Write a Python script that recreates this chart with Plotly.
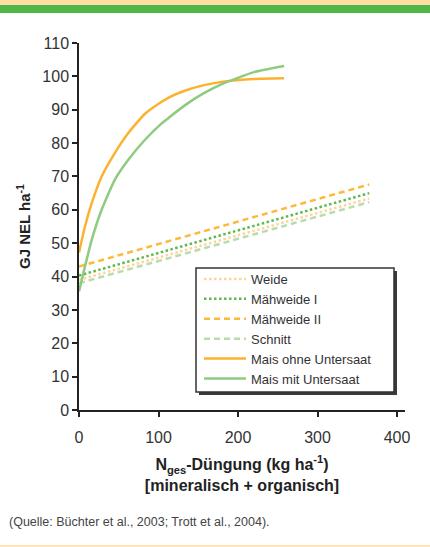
import plotly.graph_objects as go

# ---------------- data ----------------
mais_x = [0, 7.5, 16, 28.5, 45, 62, 83, 104, 114, 133, 156, 181, 219, 258]
mais_ohne_y = [47.2, 55, 62, 70, 77, 83, 88.8, 92.4, 93.8, 95.7, 97.3, 98.4, 99.2, 99.4]
mais_mit_y = [35.5, 43, 51, 60, 69, 75, 81, 85.9, 87.8, 91.3, 94.8, 97.8, 101.2, 103.1]

lin_x = [0, 365]
weide_y = [39.0, 63.4]
maehweide1_y = [40.3, 65.0]
maehweide2_y = [43.0, 67.6]
schnitt_y = [38.0, 62.3]

x_ticks = [0, 100, 200, 300, 400]
y_ticks = [0, 10, 20, 30, 40, 50, 60, 70, 80, 90, 100, 110]

# ---------------- layout helpers ----------------
W, H = 430, 547
L, R, T, B = 79, 25, 43, 137
PW, PH = W - L - R, H - T - B


def px(xp):
    return (xp - L) / PW


def py(yp):
    return (H - B - yp) / PH


TXT = "#333333"
fig = go.Figure()

series = [
    ("Weide", lin_x, weide_y, "#FDD49A", "2.5px,2.5px", "linear"),
    ("Mähweide I", lin_x, maehweide1_y, "#5DB94D", "2.5px,2.5px", "linear"),
    ("Mähweide II", lin_x, maehweide2_y, "#FBBA3C", "6px,4px", "linear"),
    ("Schnitt", lin_x, schnitt_y, "#B8DCAC", "6px,4px", "linear"),
    ("Mais ohne Untersaat", mais_x, mais_ohne_y, "#FBB22E", "solid", "spline"),
    ("Mais mit Untersaat", mais_x, mais_mit_y, "#8FCB7F", "solid", "spline"),
]
for name, xs, ys, col, dash, shape in series:
    fig.add_trace(go.Scatter(
        x=xs, y=ys, mode="lines", name=name,
        line=dict(color=col, width=2.5, dash=dash, shape=shape, smoothing=0.5),
        hoverinfo="skip"))

shapes = [
    # top bands
    dict(type="rect", xref="paper", yref="paper", x0=px(0), x1=px(W), y0=py(0), y1=py(5),
         fillcolor="#FFDDA3", line=dict(width=0), layer="below"),
    dict(type="rect", xref="paper", yref="paper", x0=px(0), x1=px(W), y0=py(5), y1=py(13),
         fillcolor="#4DB848", line=dict(width=0), layer="below"),
    # bottom thin line
    dict(type="line", xref="paper", yref="paper", x0=px(0), x1=px(W), y0=py(546), y1=py(546),
         line=dict(color="#FFDDA3", width=1.5)),
    # legend shadow and box
    dict(type="rect", xref="paper", yref="paper", x0=px(199), x1=px(397), y0=py(271), y1=py(395),
         fillcolor="#3a3a3a", line=dict(width=0), layer="above"),
    dict(type="rect", xref="paper", yref="paper", x0=px(196), x1=px(394), y0=py(268), y1=py(392),
         fillcolor="white", line=dict(color="#333333", width=1.5), layer="above"),
]

fig.update_layout(
    width=W, height=H,
    margin=dict(l=L, r=R, t=T, b=B, autoexpand=False),
    paper_bgcolor="white", plot_bgcolor="white",
    font=dict(family="Liberation Sans, Arial, sans-serif", color=TXT, size=16),
    showlegend=True,
    legend=dict(
        x=px(199), y=py(264), xanchor="left", yanchor="top",
        bgcolor="rgba(0,0,0,0)", borderwidth=0,
        font=dict(family="Liberation Sans, Arial", size=13, color=TXT),
        itemwidth=42, tracegroupgap=0,
    ),
    xaxis=dict(
        range=[0, 410], tickvals=x_ticks, ticks="outside", ticklen=5, tickwidth=1.5,
        tickcolor="#222222", showline=True, linecolor="#222222", linewidth=1.5,
        showgrid=False, zeroline=False, automargin=False, ticklabelstandoff=7,
        tickfont=dict(family="Liberation Sans, Arial", size=16, color=TXT),
        title=dict(
            text="<b>N<sub>ges</sub>-Düngung (kg ha<sup>-1</sup>)<br>[mineralisch + organisch]</b>",
            font=dict(family="Liberation Sans, Arial", size=16, color="#222222"),
            standoff=14),
    ),
    yaxis=dict(
        range=[0, 110], tickvals=y_ticks, ticks="outside", ticklen=5, tickwidth=1.5,
        tickcolor="#222222", showline=True, linecolor="#222222", linewidth=1.5,
        showgrid=False, zeroline=False, automargin=False,
        tickfont=dict(family="Liberation Sans, Arial", size=16, color=TXT),
        title=dict(
            text="<b>GJ NEL ha<sup>-1</sup></b>",
            font=dict(family="Liberation Sans, Arial", size=15, color="#222222"),
            standoff=8),
    ),
    shapes=shapes,
    annotations=[
        dict(text="(Quelle: Büchter et al., 2003; Trott et al., 2004).",
             xref="paper", yref="paper", x=px(7), y=py(522), xanchor="left", yanchor="middle",
             showarrow=False,
             font=dict(family="Liberation Sans, Arial", size=12.5, color="#444444")),
    ],
)

fig.write_html("out.html", config={"displayModeBar": False},
               post_script="document.body.style.margin='0';")
